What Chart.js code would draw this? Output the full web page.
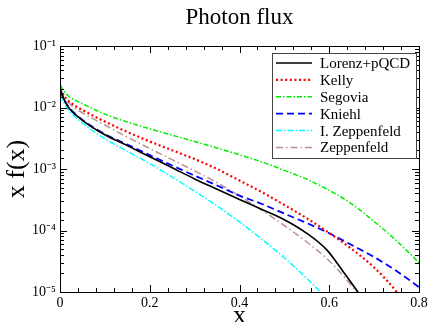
<!DOCTYPE html>
<html>
<head>
<meta charset="utf-8">
<script src="https://cdn.jsdelivr.net/npm/chart.js@4"></script>
<style>
html,body{margin:0;padding:0;background:#fff;}
#c{display:block;}
</style>
</head>
<body>
<canvas id="c" width="431" height="322"></canvas>
<script>
const chartTitle = 'Photon flux';
const xAxisTitle = 'x';
const yAxisTitle = 'x f(x)';
const seriesNames = ['Lorenz+pQCD', 'Kelly', 'Segovia', 'Kniehl', 'I. Zeppenfeld', 'Zeppenfeld'];
const xTickValues = [0, 0.2, 0.4, 0.6, 0.8];
const xTickLabels = ['0', '0.2', '0.4', '0.6', '0.8'];
const yTickExponents = [-5, -4, -3, -2, -1];

const lorenzX = [0.001,0.01,0.02,0.05,0.1,0.15,0.2,0.25,0.3,0.35,0.4,0.45,0.5,0.55,0.595,0.63,0.67];
const lorenzY = [0.019,0.0130,0.0098,0.0062,0.0036,0.0024,0.00158,0.00105,0.00069,0.00047,0.00032,0.00022,0.00015,0.00009,0.000048,0.000022,0.0000087];

const kellyX = [0.001,0.01,0.02,0.05,0.1,0.15,0.2,0.25,0.3,0.35,0.4,0.45,0.5,0.55,0.6,0.65,0.7,0.75,0.77];
const kellyY = [0.020,0.0152,0.0126,0.0091,0.0059,0.0040,0.0028,0.00202,0.00145,0.00100,0.00065,0.00042,0.00026,0.000158,0.000091,0.00005,0.000025,0.00001,0.000006];

const segoviaX = [0.001,0.01,0.02,0.05,0.1,0.15,0.2,0.25,0.3,0.35,0.4,0.45,0.5,0.55,0.6,0.65,0.7,0.75,0.8];
const segoviaY = [0.023,0.018,0.0151,0.0115,0.0078,0.0058,0.0045,0.00355,0.0028,0.0022,0.0017,0.0013,0.00095,0.00068,0.00045,0.00027,0.00014,0.000068,0.00003];

const kniehlX = [0.001,0.01,0.02,0.05,0.1,0.15,0.2,0.25,0.3,0.35,0.4,0.45,0.5,0.55,0.6,0.65,0.7,0.75,0.8];
const kniehlY = [0.019,0.0132,0.0100,0.0063,0.0037,0.0025,0.00168,0.00114,0.00078,0.00054,0.00037,0.00027,0.000188,0.000132,0.00009,0.000058,0.000037,0.000022,0.000012];

const iZeppX = [0.001,0.01,0.02,0.05,0.1,0.15,0.2,0.25,0.3,0.35,0.4,0.45,0.5,0.55,0.6];
const iZeppY = [0.016,0.0115,0.0089,0.0056,0.0031,0.00195,0.00122,0.00074,0.000437,0.000251,0.000138,0.000072,0.000036,0.0000166,0.0000072];

const zeppX = [0.001,0.01,0.02,0.05,0.1,0.15,0.2,0.25,0.3,0.35,0.4,0.45,0.5,0.55,0.6,0.65,0.67];
const zeppY = [0.020,0.0145,0.0118,0.0082,0.0052,0.0033,0.00215,0.00142,0.00093,0.0006,0.000363,0.000214,0.00012,0.000065,0.000032,0.0000126,0.0000079];

const SERIF = '"Liberation Serif", "Times New Roman", serif';

function pts(xs, ys) { return xs.map((x, i) => ({x: x, y: ys[i]})); }

const styles = [
  {color: '#000000', width: 1.6, dash: []},
  {color: '#ff0000', width: 2.2, dash: [2, 2.6]},
  {color: '#00ee00', width: 1.5, dash: [5, 2, 1.5, 2]},
  {color: '#0000ff', width: 1.8, dash: [7, 4]},
  {color: '#00ffff', width: 1.5, dash: [6, 2, 1.5, 2]},
  {color: '#bc8f8f', width: 1.5, dash: [7, 3, 1.5, 3]}
];
const seriesData = [
  pts(lorenzX, lorenzY), pts(kellyX, kellyY), pts(segoviaX, segoviaY),
  pts(kniehlX, kniehlY), pts(iZeppX, iZeppY), pts(zeppX, zeppY)
];

const datasets = seriesNames.map((name, i) => ({
  label: name,
  data: seriesData[i],
  borderColor: styles[i].color,
  backgroundColor: styles[i].color,
  borderWidth: styles[i].width,
  borderDash: styles[i].dash,
  pointRadius: 0,
  fill: false,
  cubicInterpolationMode: 'monotone'
}));

const supMap = {'-': '\u207B', '0': '\u2070', '1': '\u00B9', '2': '\u00B2', '3': '\u00B3', '4': '\u2074', '5': '\u2075', '6': '\u2076', '7': '\u2077', '8': '\u2078', '9': '\u2079'};

const decorPlugin = {
  id: 'decor',
  afterDatasetsDraw(chart) {
    const ctx = chart.ctx;
    const a = chart.chartArea;
    const xs = chart.scales.x, ys = chart.scales.y;
    ctx.save();
    ctx.strokeStyle = '#000';
    ctx.lineWidth = 1;
    ctx.setLineDash([]);
    ctx.strokeRect(Math.round(a.left) + 0.5, Math.round(a.top) + 0.5, Math.round(a.right - a.left), Math.round(a.bottom - a.top));
    for (let k = 0; k <= 20; k++) {
      const v = k * 0.04;
      const major = (k % 5 === 0);
      const len = major ? 7 : 4;
      const px = Math.round(xs.getPixelForValue(v)) + 0.5;
      ctx.beginPath();
      ctx.moveTo(px, a.bottom); ctx.lineTo(px, a.bottom - len);
      ctx.moveTo(px, a.top); ctx.lineTo(px, a.top + len);
      ctx.stroke();
    }
    ys.ticks.forEach(t => {
      const l = Math.log10(t.value);
      const major = Math.abs(l - Math.round(l)) < 1e-6;
      const len = major ? 7 : 4;
      const py = Math.round(ys.getPixelForValue(t.value)) + 0.5;
      ctx.beginPath();
      ctx.moveTo(a.left, py); ctx.lineTo(a.left + len, py);
      ctx.moveTo(a.right, py); ctx.lineTo(a.right - len, py);
      ctx.stroke();
    });
    const bx = 272, by = 53, bw = 144, bh = 105;
    ctx.fillStyle = '#fff';
    ctx.fillRect(bx, by, bw, bh);
    ctx.strokeStyle = '#444';
    ctx.strokeRect(bx + 0.5, by + 0.5, bw, bh);
    ctx.font = '15px ' + SERIF;
    ctx.textBaseline = 'middle';
    ctx.textAlign = 'left';
    chart.data.datasets.forEach((ds, i) => {
      const y = 63 + i * 16.9;
      ctx.strokeStyle = ds.borderColor;
      ctx.lineWidth = ds.borderWidth;
      ctx.setLineDash(ds.borderDash);
      ctx.beginPath();
      ctx.moveTo(276, y); ctx.lineTo(312, y);
      ctx.stroke();
      ctx.setLineDash([]);
      ctx.fillStyle = '#000';
      ctx.fillText(ds.label, 320, y + 1);
    });
    ctx.restore();
  }
};

new Chart(document.getElementById('c'), {
  type: 'line',
  data: {datasets: datasets},
  plugins: [decorPlugin],
  options: {
    responsive: false,
    animation: false,
    devicePixelRatio: 1,
    layout: {padding: {left: 0, right: 12, top: 0, bottom: 0}},
    plugins: {
      legend: {display: false},
      tooltip: {enabled: false},
      title: {
        display: true,
        text: chartTitle,
        color: '#000',
        fullSize: false,
        font: {family: SERIF, size: 23, weight: 'normal', lineHeight: 1.2},
        padding: {top: 4, bottom: 14.4}
      }
    },
    scales: {
      x: {
        type: 'linear',
        min: 0, max: 0.8,
        afterBuildTicks: (s) => { s.ticks = xTickValues.map(v => ({value: v})); },
        afterFit: (s) => { s.height = 30; },
        ticks: {
          autoSkip: false,
          maxRotation: 0,
          color: '#000',
          padding: 3,
          font: {family: SERIF, size: 14},
          callback: (v) => { const i = xTickValues.findIndex(t => Math.abs(t - v) < 1e-9); return i >= 0 ? xTickLabels[i] : ''; }
        },
        grid: {display: false, drawTicks: false},
        border: {display: true, color: '#000'},
        title: {display: true, text: xAxisTitle, color: '#000', font: {family: SERIF, size: 26, lineHeight: 1}, padding: {top: 0, bottom: -7}}
      },
      y: {
        type: 'logarithmic',
        min: 1e-5, max: 1e-1,
        afterFit: (s) => { s.width = 60; },
        ticks: {
          autoSkip: false,
          color: '#000',
          padding: 4,
          font: {family: SERIF, size: 14},
          callback: (v) => {
            const l = Math.log10(v);
            const r = Math.round(l);
            if (Math.abs(l - r) > 1e-6 || !yTickExponents.includes(r)) return '';
            return '10' + String(r).split('').map(c => supMap[c]).join('');
          }
        },
        grid: {display: false, drawTicks: false},
        border: {display: true, color: '#000'},
        title: {display: true, text: yAxisTitle, color: '#000', font: {family: SERIF, size: 26, lineHeight: 1}, padding: {top: 4, bottom: 0}}
      }
    }
  }
});
</script>
</body>
</html>
